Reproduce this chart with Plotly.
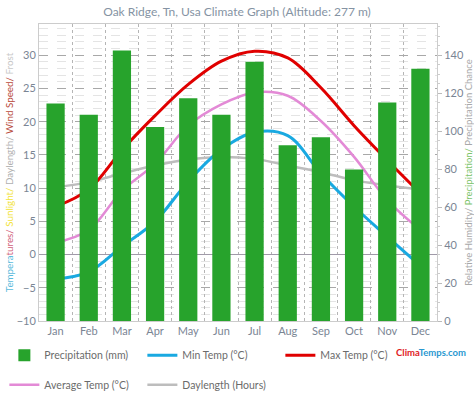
import plotly.graph_objects as go

months = ["Jan", "Feb", "Mar", "Apr", "May", "Jun", "Jul", "Aug", "Sep", "Oct", "Nov", "Dec"]
precip_mm = [114.6, 108.7, 142.5, 102.2, 117.4, 108.7, 136.5, 92.6, 96.8, 79.8, 115.1, 132.9]
min_temp = [-3.7, -2.6, 1.2, 5.0, 11.0, 15.8, 18.4, 17.9, 12.2, 7.2, 2.7, -1.7]
max_temp = [7.2, 9.8, 15.7, 20.9, 25.6, 29.1, 30.6, 29.6, 25.1, 19.4, 14.2, 9.2]
avg_temp = [1.8, 3.7, 9.6, 13.7, 19.4, 22.6, 24.4, 23.9, 20.1, 14.7, 8.2, 3.7]
daylength = [10.1, 10.9, 12.2, 13.4, 14.3, 14.7, 14.4, 13.4, 12.4, 11.2, 10.4, 9.8]

FONT = "Lato"
LEFT_RANGE = [-10, 34.7]
RATIO = 3.5  # mm per degree
RIGHT_RANGE = [0, (LEFT_RANGE[1] - LEFT_RANGE[0]) * RATIO]

fig = go.Figure()

fig.add_trace(go.Bar(
    x=months, y=precip_mm, name="Precipitation (mm)", yaxis="y2",
    marker=dict(color="#27a32c", line=dict(width=0)), width=0.55,
    legend="legend", legendrank=1,
))
fig.add_trace(go.Scatter(
    x=months, y=daylength, name="Daylength (Hours)", mode="lines",
    line=dict(color="#bdbdbd", width=2.5, shape="spline", smoothing=1),
    legend="legend2", legendrank=2,
))
fig.add_trace(go.Scatter(
    x=months, y=avg_temp, name="Average Temp (\u00b0C)", mode="lines",
    line=dict(color="#e38ad6", width=2.5, shape="spline", smoothing=1),
    legend="legend2", legendrank=1,
))
fig.add_trace(go.Scatter(
    x=months, y=min_temp, name="Min Temp (\u00b0C)", mode="lines",
    line=dict(color="#19a9e1", width=3, shape="spline", smoothing=1),
    legend="legend", legendrank=2,
))
fig.add_trace(go.Scatter(
    x=months, y=max_temp, name="Max Temp (\u00b0C)", mode="lines",
    line=dict(color="#e00000", width=3, shape="spline", smoothing=1),
    legend="legend", legendrank=3,
))

left_title = (
    '<span style="color:#5bbbdc">Tempera</span>'
    '<span style="color:#d0607a">tures/ </span>'
    '<span style="color:#f2e33a">Sunlight/ </span>'
    '<span style="color:#b0b0b0">Daylength/ </span>'
    '<span style="color:#b84a3a">Wind Speed/ </span>'
    '<span style="color:#c8c8c8">Frost</span>'
)
right_title = (
    '<span style="color:#a8a8a8">Relative Humidity/ </span>'
    '<span style="color:#7cc46a">Precipitation/ </span>'
    '<span style="color:#a8a8a8">Precipitation Chance</span>'
)

fig.update_layout(
    width=474, height=400,
    margin=dict(l=39, r=37, t=24, b=79, autoexpand=False),
    paper_bgcolor="white", plot_bgcolor="white",
    font=dict(family=FONT, size=11, color="#777"),
    title=dict(text="Oak Ridge, Tn, Usa Climate Graph (Altitude: 277 m)",
               x=0.5, xanchor="center", y=0.97, yanchor="middle",
               font=dict(family=FONT, size=12, color="#8593a3")),
    bargap=0.45,
    showlegend=True,
    xaxis=dict(
        type="category", tickson="boundaries", showgrid=True,
        gridcolor="#b5b5b5", griddash="dot", gridwidth=1,
        ticks="", tickfont=dict(size=11, color="#7a8594"),
        showline=True, linecolor="#cccccc", mirror=True,
        range=[-0.5, 11.5],
    ),
    yaxis=dict(
        range=LEFT_RANGE, tickvals=[-10, -5, 0, 5, 10, 15, 20, 25, 30],
        showgrid=True, gridcolor="#a8a8a8", griddash="dash", gridwidth=1,
        minor=dict(dtick=1, tick0=0, showgrid=True, gridcolor="#e4e4e4", gridwidth=1),
        zeroline=True, zerolinecolor="#a09aa8", zerolinewidth=1,
        tickfont=dict(size=11, color="#7a8594"),
        title=dict(text=left_title, font=dict(size=9.8), standoff=1),
        showline=True, linecolor="#cccccc",
    ),
    yaxis2=dict(
        overlaying="y", side="right", range=RIGHT_RANGE,
        tickvals=[0, 20, 40, 60, 80, 100, 120, 140],
        showgrid=False, zeroline=False,
        ticks="outside", ticklen=4, tickcolor="#bbbbbb",
        minor=dict(dtick=5, ticks="outside", ticklen=2, tickcolor="#cccccc"),
        tickfont=dict(size=11, color="#7a8594"),
        title=dict(text=right_title, font=dict(size=9.5), standoff=4),
        showline=True, linecolor="#cccccc",
    ),
    legend=dict(
        orientation="h", x=-0.087, xanchor="left", y=-0.115, yanchor="middle",
        entrywidth=93, font=dict(size=10.5, color="#6b6b6b"),
        bgcolor="rgba(0,0,0,0)",
    ),
    legend2=dict(
        orientation="h", x=-0.087, xanchor="left", y=-0.215, yanchor="middle",
        entrywidth=93, font=dict(size=10.5, color="#6b6b6b"),
        bgcolor="rgba(0,0,0,0)",
    ),
    annotations=[dict(
        text='<b><span style="color:#e0201e">Clima</span><span style="color:#2a98d0">Temps.com</span></b>',
        xref="paper", yref="paper", x=1.077, y=-0.105, xanchor="right", yanchor="middle",
        showarrow=False, font=dict(size=9.5, family=FONT),
    )],
)

fig.write_html("out.html", config={"displayModeBar": False},
               post_script="document.body.style.margin='0';")
